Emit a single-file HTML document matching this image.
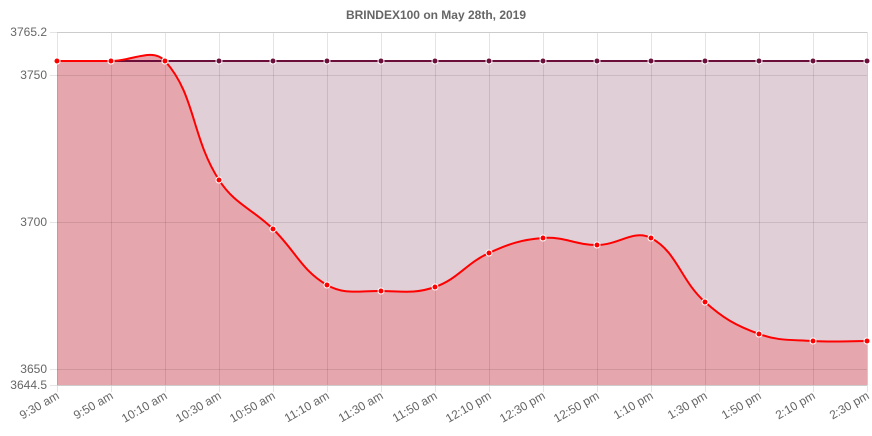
<!DOCTYPE html><html><head><style>body{margin:0;background:#fff}svg{display:block;font-family:"Liberation Sans",sans-serif}</style></head><body>
<svg id="s" width="872" height="436" xmlns="http://www.w3.org/2000/svg">
<text x="436" y="19" text-anchor="middle" font-size="12" font-weight="bold" fill="#666">BRINDEX100 on May 28th, 2019</text>
<g id="grid" stroke="#e4e4e4" stroke-width="1"></g>
<rect x="57" y="61" width="810" height="324" fill="#e0cfd7"/>
<path id="area" fill="#e6a6ad"/>
<g id="grid2" stroke="rgba(0,0,0,0.1)" stroke-width="1"></g>
<line x1="57" y1="61" x2="867" y2="61" stroke="#6b0f3a" stroke-width="2"/>
<path id="line" fill="none" stroke="#ff0000" stroke-width="2"/>
<g id="pts"></g>
<g id="lbl" font-size="12" fill="#666"></g>
</svg>
<script>
const ys=[61,61,61,180,229,285,291,287,253,238,245,238,302,334,341,341];
const xs=ys.map((_,i)=>57+i*54);
const labels=["9:30 am","9:50 am","10:10 am","10:30 am","10:50 am","11:10 am","11:30 am","11:50 am","12:10 pm","12:30 pm","12:50 pm","1:10 pm","1:30 pm","1:50 pm","2:10 pm","2:30 pm"];
const t=0.4;let cp=[];
for(let i=0;i<ys.length;i++){const p0=i?[xs[i-1],ys[i-1]]:[xs[i],ys[i]],p1=[xs[i],ys[i]],p2=i<ys.length-1?[xs[i+1],ys[i+1]]:p1;
const d01=Math.hypot(p1[0]-p0[0],p1[1]-p0[1]),d12=Math.hypot(p2[0]-p1[0],p2[1]-p1[1]);let fa=d01/(d01+d12)||0,fb=d12/(d01+d12)||0;fa*=t;fb*=t;
cp.push([[p1[0]-fa*(p2[0]-p0[0]),p1[1]-fa*(p2[1]-p0[1])],[p1[0]+fb*(p2[0]-p0[0]),p1[1]+fb*(p2[1]-p0[1])]]);}
let d=`M${xs[0]},${ys[0]}`;for(let i=1;i<ys.length;i++){d+=` C${cp[i-1][1][0]},${cp[i-1][1][1]} ${cp[i][0][0]},${cp[i][0][1]} ${xs[i]},${ys[i]}`;}
document.getElementById('line').setAttribute('d',d);
document.getElementById('area').setAttribute('d',d+` L867,385 L57,385 Z`);
const ns="http://www.w3.org/2000/svg";const mk=(g,tag,a,txt)=>{const e=document.createElementNS(ns,tag);for(const k in a)e.setAttribute(k,a[k]);if(txt)e.textContent=txt;document.getElementById(g).appendChild(e);};
[[32,"3765.2"],[75,"3750"],[222,"3700"],[369,"3650"],[385,"3644.5"]].forEach(([y,l])=>{mk('grid','line',{x1:50,x2:867,y1:y+.5,y2:y+.5});mk('grid2','line',{x1:57,x2:867,y1:y+.5,y2:y+.5});mk('lbl','text',{x:47,y:y+4,'text-anchor':'end'},l);});
xs.forEach((x,i)=>{mk('grid','line',{x1:x+.5,x2:x+.5,y1:32,y2:392});mk('grid2','line',{x1:x+.5,x2:x+.5,y1:61,y2:385});
mk('lbl','text',{x:0,y:0,'text-anchor':'end',transform:`translate(${x+3},${398}) rotate(-30)`},labels[i]);
mk('pts','circle',{cx:x,cy:61,r:3,fill:'#6b0f3a',stroke:'#fff','stroke-width':1});
mk('pts','circle',{cx:x,cy:ys[i],r:3,fill:'#ff0000',stroke:'#fff','stroke-width':1});});
</script></body></html>
